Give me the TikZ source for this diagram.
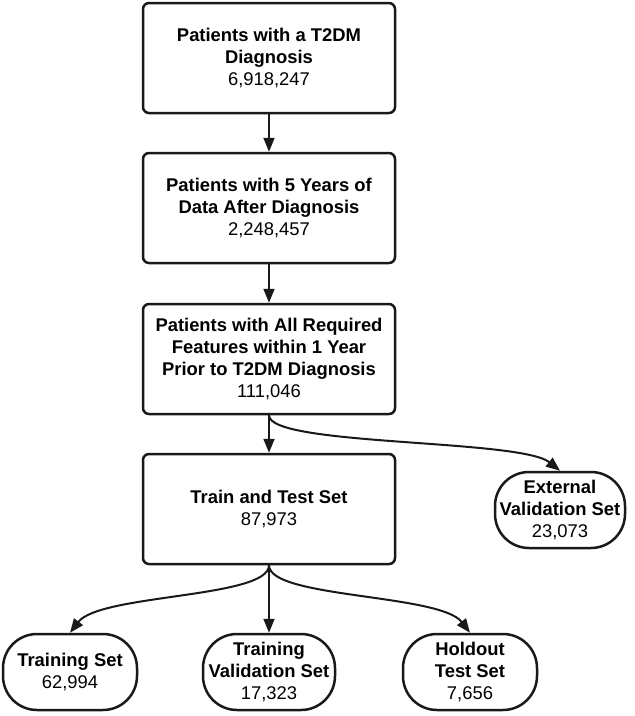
\documentclass[tikz,border=0pt]{standalone}
\usepackage{fontspec}
\setmainfont{Liberation Sans}
\usetikzlibrary{arrows.meta}
\begin{document}
\begin{tikzpicture}[x=1pt,y=-1pt,
  txt/.style={align=center, font=\fontsize{18.4}{21.7}\selectfont, text=black},
  box/.style={txt, draw=black!90, line width=2.5pt, rounded corners=6pt, minimum width=252pt, minimum height=110pt, inner sep=0pt},
  pill/.style={txt, draw=black!90, line width=2.5pt, rounded corners=34pt, minimum height=76pt, inner sep=0pt},
  arr/.style={draw=black!90, line width=2pt, -{Triangle[length=14pt,width=11pt]}}
]
\useasboundingbox (0,0) rectangle (635,716);
\node[box] (b1) at (269,58) {\textbf{Patients with a T2DM}\\\textbf{Diagnosis}\\6,918,247};
\node[box] (b2) at (269,208) {\textbf{Patients with 5 Years of}\\\textbf{Data After Diagnosis}\\2,248,457};
\node[box] (b3) at (269,359) {\textbf{Patients with All Required}\\\textbf{Features within 1 Year}\\\textbf{Prior to T2DM Diagnosis}\\111,046};
\node[box] (b4) at (269,509) {\textbf{Train and Test Set}\\87,973};
\node[pill, minimum width=130pt] (ext) at (560,510) {\textbf{External}\\\textbf{Validation Set}\\23,073};
\node[pill, minimum width=134pt] (tr) at (70,672) {\textbf{Training Set}\\62,994};
\node[pill, minimum width=132pt] (tv) at (269,672) {\textbf{Training}\\\textbf{Validation Set}\\17,323};
\node[pill, minimum width=134pt] (ho) at (470,672) {\textbf{Holdout}\\\textbf{Test Set}\\7,656};
\draw[arr] (b1.south) -- (b2.north);
\draw[arr] (b2.south) -- (b3.north);
\draw[arr] (b3.south) -- (b4.north);
\draw[arr] (b3.south) .. controls +(0,31) and +(-40,-32) .. (ext.north);
\draw[arr] (b4.south) -- (tv.north);
\draw[arr] (b4.south) .. controls +(0,33) and +(30,-39) .. (tr.north);
\draw[arr] (b4.south) .. controls +(0,33) and +(-30,-39) .. (ho.north);
\end{tikzpicture}
\end{document}
